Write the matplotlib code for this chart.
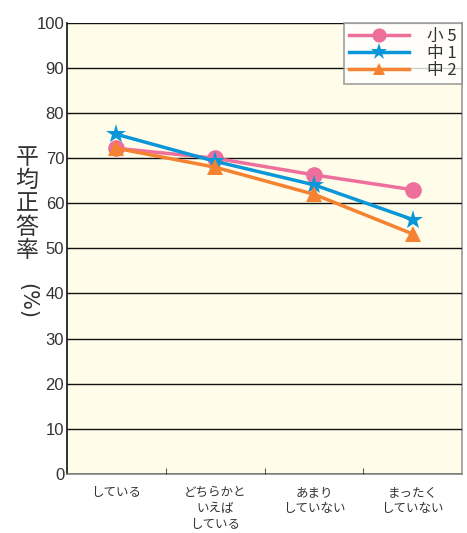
import matplotlib
matplotlib.use("Agg")
import matplotlib.pyplot as plt

plt.rcParams['font.family'] = ['Noto Sans CJK JP', 'DejaVu Sans']

categories = ["している", "どちらかと\nいえば\nしている", "あまり\nしていない", "まったく\nしていない"]
series_names = ["小 5", "中 1", "中 2"]
sho5 = [72.2, 70.0, 66.3, 63.0]
chu1 = [75.3, 69.3, 64.1, 56.4]
chu2 = [72.2, 68.0, 62.0, 53.2]
yticks = [0, 10, 20, 30, 40, 50, 60, 70, 80, 90, 100]
ylabel_chars = ["平", "均", "正", "答", "率"]

colors = ["#EE6F9C", "#0A97D9", "#F58230"]
markers = ["o", "*", "^"]
msizes = [12, 15, 11]

fig = plt.figure(figsize=(4.67, 5.33), dpi=100)
ax = fig.add_axes([0.1435, 0.111, 0.846, 0.846])
ax.set_facecolor("#FFFDE9")

x = list(range(len(categories)))
for vals, name, c, m, ms in zip([sho5, chu1, chu2], series_names, colors, markers, msizes):
    ax.plot(x, vals, color=c, lw=2.5, marker=m, markersize=ms, label=name,
            markeredgewidth=0, zorder=3)

ax.set_xlim(-0.5, 3.5)
ax.set_ylim(0, 100)
ax.set_yticks(yticks)
ax.set_yticklabels([str(t) for t in yticks], fontsize=12, color="#333333",
                   family=['Liberation Sans', 'DejaVu Sans'])
ax.yaxis.grid(True, color="#111111", lw=1)
ax.set_axisbelow(False)
ax.tick_params(axis='y', length=0, pad=2)

ax.set_xticks([0.5, 1.5, 2.5], minor=True)
ax.set_xticks(x)
ax.set_xticklabels(categories, fontsize=9, color="#333333", linespacing=1.3, va='top')
ax.tick_params(axis='x', which='major', length=0, pad=9)
ax.tick_params(axis='x', which='minor', length=4, color="#333333", direction='in')

ax.spines['left'].set_color("#111111")
ax.spines['bottom'].set_color("#888888")
ax.spines['right'].set_color("#999999")
ax.spines['top'].set_visible(False)
for s in ax.spines.values():
    s.set_linewidth(1.2)

for i, ch in enumerate(ylabel_chars):
    fig.text(0.058, 1 - (157 + 23.4 * i) / 533, ch, fontsize=16.5, color="#333333",
             ha='center', va='center', family=['Noto Sans CJK JP'])
fig.text(0.058, 1 - 301 / 533, "(%)", fontsize=15, color="#333333", rotation=-90,
         ha='center', va='center', family=['DejaVu Sans'])

leg = ax.legend(loc='upper right', bbox_to_anchor=(1.0, 1.0), fontsize=12,
                frameon=True, fancybox=False, edgecolor="#888888",
                handlelength=3.6, borderaxespad=0, labelspacing=0.0,
                borderpad=0.3, handletextpad=1.1, markerscale=0.85)
leg.get_frame().set_facecolor("white")
leg.get_frame().set_linewidth(1.2)
for t in leg.get_texts():
    t.set_color("#333333")

fig.savefig("out.png", dpi=100)
